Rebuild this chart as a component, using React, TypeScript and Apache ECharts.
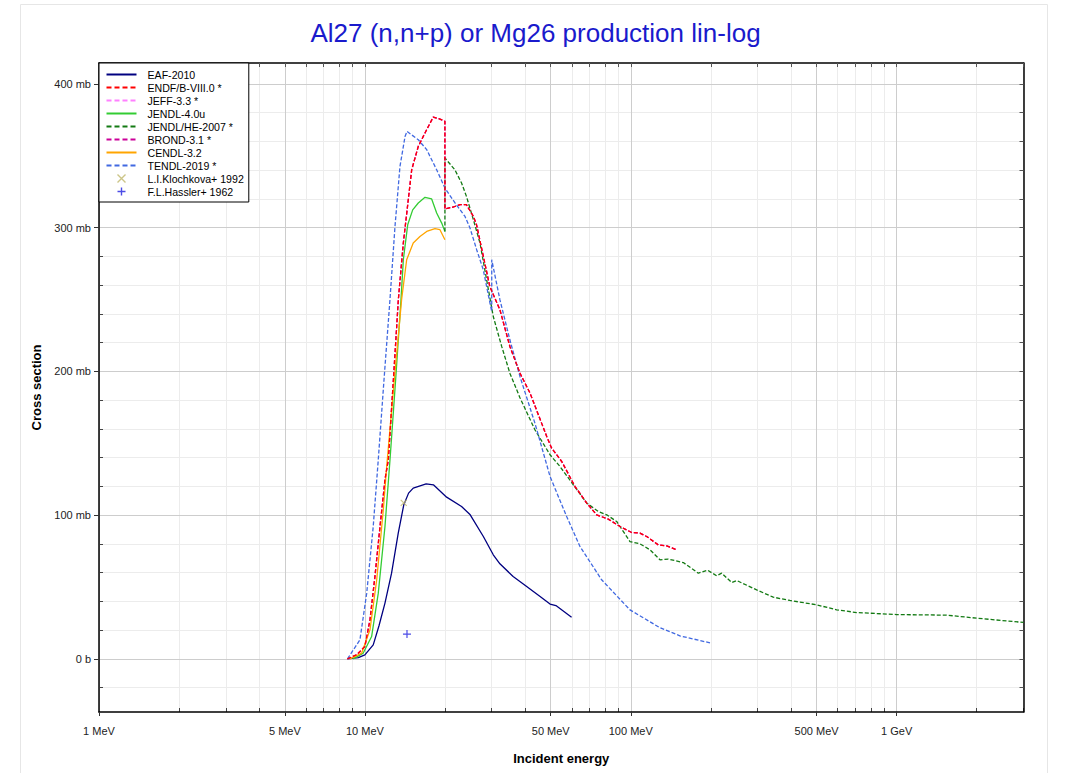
import { useEffect, useRef } from 'react';
import * as echarts from 'echarts';

// ---------- data (energy in MeV, cross section in mb) ----------
const eafE = [8.6, 9.45, 10.0, 10.75, 11.3, 11.9, 12.6, 13.35, 14.0, 14.6, 15.2, 17.0, 18.1, 20.3, 23.1, 24.9, 27.9, 30.4, 32.2, 36.1, 40.6, 45.6, 49.7, 52.3, 59.9];
const eafXS = [0, 0.9, 2.8, 9.7, 23, 38.8, 59.6, 87.5, 107, 115.3, 118.8, 121.8, 121.1, 112.5, 106, 100.2, 85.1, 72.4, 66.1, 57.3, 50.3, 43.4, 38.1, 37.1, 29.0];

// ENDF/B-VIII.0, JEFF-3.3 and BROND-3.1 coincide
const endfE = [8.59, 9.32, 10.0, 10.45, 10.91, 11.4, 11.9, 12.25, 12.8, 13.36, 13.95, 14.56, 15.0, 15.88, 16.83, 18.08, 19.16, 20.0, 20.0, 21.5, 22.8, 24.1, 25.6, 26.3, 27.9, 29.5, 32.2, 35.1, 38.3, 41.8, 48.3, 50.4, 55.0, 61.7, 68.3, 74.4, 82.3, 91.1, 100.8, 108.3, 114.8, 126.9, 136.5, 148.7];
const endfXS = [0, 2.8, 8.6, 27.1, 57.3, 92.1, 124.6, 138.5, 194, 249.9, 289.3, 319.4, 340.3, 356.6, 365.9, 377, 375.6, 374, 313, 314.4, 316, 316, 307.8, 302, 280, 259.1, 242.9, 217.4, 198.8, 184.9, 154.7, 146.6, 137.3, 119.9, 108.4, 100.2, 97.2, 92.1, 87.9, 87.5, 85.1, 79.3, 78.6, 75.9];

const jendl4E = [9.04, 9.86, 10.6, 11.23, 11.9, 12.43, 13.05, 13.67, 13.95, 14.49, 15.13, 15.88, 16.83, 17.83, 18.62, 19.45, 20.0];
const jendl4XS = [0, 4, 15.5, 45.7, 92.1, 138.5, 194, 249.9, 277.7, 302, 312.4, 317.2, 321.1, 320, 310.2, 303.2, 297.4];

const jendlHeE = [20.0, 20.0, 21.8, 23.1, 24.1, 25.6, 27.1, 28.7, 30.4, 32.7, 35.1, 38.3, 43.6, 49.7, 54.2, 60.8, 68.3, 75.5, 81.2, 88.5, 99.3, 108.3, 118.1, 128.8, 138.4, 157.6, 179.5, 194.3, 210.4, 219.7, 239.6, 250.2, 297.5, 343.5, 396.8, 500, 594.7, 707.2, 1000, 1541, 2000, 3000];
const jendlHeXS = [297.4, 348.5, 340.3, 331.1, 321.8, 305.5, 289.3, 263.8, 238.2, 217.4, 198.8, 181.7, 159.4, 142, 133.8, 121.1, 108.4, 102.5, 100.2, 95.6, 81.6, 80, 75.9, 68.9, 69.4, 67, 59.6, 61.7, 57.8, 59.6, 53.1, 54.5, 48, 42.9, 40.6, 37.6, 34.1, 32.2, 30.8, 30.4, 28.3, 25.3];

const cendlE = [8.79, 9.73, 10.45, 11.08, 11.73, 12.08, 12.9, 13.75, 14.36, 15.2, 16.11, 17.08, 18.35, 19.16, 20.0];
const cendlXS = [0, 4, 20.2, 55, 103.7, 133.8, 194, 250.3, 277.7, 289.3, 293.9, 297.4, 299.3, 298.6, 291.6];

const tendlE = [8.6, 9.58, 10.16, 10.75, 11.23, 11.8, 12.43, 12.98, 13.55, 14.16, 14.4, 15.88, 17.08, 18.62, 20.0, 21.83, 23.8, 24.85, 26.33, 27.88, 29.54, 30.0, 30.0, 32.2, 35.1, 38.3, 43.6, 49.7, 57.4, 64.4, 77.7, 99.3, 128.8, 153, 198.6];
const tendlXS = [0, 13.2, 45.7, 92.1, 138.5, 194, 250.3, 300.9, 342.6, 363.5, 367, 361.2, 354.3, 340.3, 327.6, 317.2, 307.8, 299.8, 284.7, 270.7, 247.6, 241.7, 277.7, 249.9, 222, 196.5, 164, 126.9, 99, 78.2, 55.0, 34.1, 21.6, 16, 11.1];

const klochkovaE = [14.0];
const klochkovaXS = [108.5];
const hasslerE = [14.4];
const hasslerXS = [17.2];

// ---------- axes ----------
const X_MIN = 1; // MeV
const X_MAX = 3000; // MeV
const Y_MIN = -37; // mb
const Y_MAX = 414.6; // mb
const xLabelValues = [1, 5, 10, 50, 100, 500, 1000];
const xMinorValues = [2, 3, 4, 6, 7, 8, 9, 20, 30, 40, 60, 70, 80, 90, 200, 300, 400, 600, 700, 800, 900, 2000, 3000];
const yLabelValues = [0, 100, 200, 300, 400];
const yMinorValues = [-20, 20, 40, 60, 80, 120, 140, 160, 180, 220, 240, 260, 280, 320, 340, 360, 380];

const FONT = '"Liberation Sans", Arial, Helvetica, sans-serif';
const lg = (v: number) => Math.log10(v);
const pts = (E: number[], S: number[]) => E.map((e, i) => [lg(e), S[i]]);

const fmtX = (v: number) => {
  const e = Math.round(Math.pow(10, v));
  return e >= 1000 ? `${Math.round(e / 1000)} GeV` : `${e} MeV`;
};
const fmtY = (v: number) => (Math.round(v) === 0 ? '0 b' : `${Math.round(v)} mb`);

const DASH = [4, 2];
const LINE_ICON = 'path://M0,0M0,8M0,4L30,4';
const CROSS = 'path://M0,0L10,10M10,0L0,10';
const PLUS = 'path://M5,0L5,10M0,5L10,5';

const lineSeries = (name: string, E: number[], S: number[], color: string, dashed: boolean, z = 2) => ({
  name,
  type: 'line',
  data: pts(E, S),
  symbol: 'none',
  showSymbol: false,
  smooth: false,
  lineStyle: { color, width: 1.3, type: dashed ? DASH : 'solid' },
  itemStyle: { color },
  z,
});

const lineLegend = (name: string, color: string, dashed: boolean) => ({
  name,
  icon: LINE_ICON,
  itemStyle: { color: 'none', borderColor: color, borderWidth: 2, borderType: dashed ? [5, 3] : 'solid' },
});

export default function App() {
  const ref = useRef<HTMLDivElement>(null);
  useEffect(() => {
    if (!ref.current) return;
    const chart = echarts.init(ref.current, null, { renderer: 'svg' });
    const allXTicks = [...xLabelValues, ...xMinorValues].sort((a, b) => a - b).map(lg);
    const allYTicks = [...yLabelValues, ...yMinorValues].sort((a, b) => a - b);
    const option: any = {
      animation: false,
      backgroundColor: '#ffffff',
      textStyle: { fontFamily: FONT },
      title: {
        text: 'Al27 (n,n+p) or Mg26 production lin-log',
        left: 'center',
        top: 15,
        textStyle: { color: '#1a1acc', fontSize: 26, fontWeight: 'normal', fontFamily: FONT },
      },
      graphic: [
        {
          type: 'rect',
          silent: true,
          shape: { x: 20.5, y: 4.5, width: 1027, height: 800 },
          style: { fill: 'none', stroke: '#e6e6e6', lineWidth: 1 },
          z: -10,
        },
      ],
      grid: { left: 99, top: 63, right: 47.5, bottom: 61, containLabel: false },
      legend: {
        orient: 'vertical',
        left: 99,
        top: 63,
        itemWidth: 30,
        itemHeight: 8,
        itemGap: 0,
        padding: [5, 5, 4, 5],
        backgroundColor: '#ffffff',
        borderColor: '#000000',
        borderWidth: 1,
        borderRadius: 0,
        textStyle: { fontSize: 10.6, lineHeight: 13, height: 13, color: '#000', fontFamily: FONT, padding: [0, 0, 0, 6] },
        data: [
          lineLegend('EAF-2010', '#000080', false),
          lineLegend('ENDF/B-VIII.0 *', '#ff0000', true),
          lineLegend('JEFF-3.3 *', '#ff80ff', true),
          lineLegend('JENDL-4.0u', '#33cc33', false),
          lineLegend('JENDL/HE-2007 *', '#137a13', true),
          lineLegend('BROND-3.1 *', '#cc0099', true),
          lineLegend('CENDL-3.2', '#ffa500', false),
          lineLegend('TENDL-2019 *', '#4169e1', true),
          { name: 'L.I.Klochkova+ 1992', icon: CROSS, itemStyle: { color: '#bfb66a', borderColor: '#bfb66a', borderWidth: 1.4 } },
          { name: 'F.L.Hassler+ 1962', icon: PLUS, itemStyle: { color: '#1f1fe0', borderColor: '#1f1fe0', borderWidth: 1.4 } },
        ],
      },
      xAxis: [
        {
          type: 'value',
          min: lg(X_MIN),
          max: lg(X_MAX),
          position: 'bottom',
          z: 1,
          axisLine: { show: true, onZero: false, lineStyle: { color: '#000', width: 1.5 } },
          axisTick: { show: true, customValues: xLabelValues.map(lg), length: 4, lineStyle: { color: '#333' } },
          axisLabel: { customValues: xLabelValues.map(lg), formatter: fmtX, fontSize: 11, color: '#222', margin: 13, fontFamily: FONT },
          splitLine: { show: true, lineStyle: { color: '#cdcdcd', width: 1 } },
          name: 'Incident energy',
          nameLocation: 'middle',
          nameGap: 40,
          nameMoveOverlap: false,
          nameTextStyle: { fontWeight: 'bold', fontSize: 13, color: '#000', fontFamily: FONT },
        },
        {
          type: 'value',
          min: lg(X_MIN),
          max: lg(X_MAX),
          position: 'bottom',
          z: 0,
          axisLine: { show: false, onZero: false },
          axisTick: { show: true, inside: true, customValues: allXTicks, length: 4, lineStyle: { color: '#444' } },
          axisLabel: { show: false },
          splitLine: { show: true, lineStyle: { color: '#ececec', width: 1 } },
        },
        {
          type: 'value',
          min: lg(X_MIN),
          max: lg(X_MAX),
          position: 'top',
          z: 1,
          axisLine: { show: true, onZero: false, lineStyle: { color: '#000', width: 1.5 } },
          axisTick: { show: true, inside: true, customValues: allXTicks, length: 4, lineStyle: { color: '#555' } },
          axisLabel: { show: false },
          splitLine: { show: false },
        },
      ],
      yAxis: [
        {
          type: 'value',
          min: Y_MIN,
          max: Y_MAX,
          position: 'left',
          z: 1,
          axisLine: { show: true, onZero: false, lineStyle: { color: '#000', width: 1.5 } },
          axisTick: { show: true, customValues: yLabelValues, length: 5, lineStyle: { color: '#333' } },
          axisLabel: { customValues: yLabelValues, formatter: fmtY, fontSize: 11, color: '#222', margin: 8, fontFamily: FONT },
          splitLine: { show: true, lineStyle: { color: '#cdcdcd', width: 1 } },
          name: 'Cross section',
          nameLocation: 'middle',
          nameGap: 56,
          nameMoveOverlap: false,
          nameTextStyle: { fontWeight: 'bold', fontSize: 13, color: '#000', fontFamily: FONT },
        },
        {
          type: 'value',
          min: Y_MIN,
          max: Y_MAX,
          position: 'left',
          z: 0,
          axisLine: { show: false, onZero: false },
          axisTick: { show: true, inside: true, customValues: allYTicks, length: 4, lineStyle: { color: '#444' } },
          axisLabel: { show: false },
          splitLine: { show: true, lineStyle: { color: '#ececec', width: 1 } },
        },
        {
          type: 'value',
          min: Y_MIN,
          max: Y_MAX,
          position: 'right',
          z: 1,
          axisLine: { show: true, onZero: false, lineStyle: { color: '#000', width: 1.5 } },
          axisTick: { show: true, inside: true, customValues: allYTicks, length: 4, lineStyle: { color: '#555' } },
          axisLabel: { show: false },
          splitLine: { show: false },
        },
      ],
      series: [
        lineSeries('EAF-2010', eafE, eafXS, '#000080', false),
        lineSeries('ENDF/B-VIII.0 *', endfE, endfXS, '#ff0000', true, 3),
        lineSeries('JEFF-3.3 *', endfE, endfXS, '#ff80ff', true),
        lineSeries('JENDL-4.0u', jendl4E, jendl4XS, '#33cc33', false),
        lineSeries('JENDL/HE-2007 *', jendlHeE, jendlHeXS, '#137a13', true),
        lineSeries('BROND-3.1 *', endfE, endfXS, '#cc0099', true),
        lineSeries('CENDL-3.2', cendlE, cendlXS, '#ffa500', false),
        lineSeries('TENDL-2019 *', tendlE, tendlXS, '#4169e1', true),
        {
          name: 'L.I.Klochkova+ 1992',
          type: 'scatter',
          data: pts(klochkovaE, klochkovaXS),
          symbol: CROSS,
          symbolSize: 6,
          itemStyle: { color: '#bfb66a', borderColor: '#bfb66a', borderWidth: 1.2 },
          z: 4,
        },
        {
          name: 'F.L.Hassler+ 1962',
          type: 'scatter',
          data: pts(hasslerE, hasslerXS),
          symbol: PLUS,
          symbolSize: 8,
          itemStyle: { color: '#1f1fe0', borderColor: '#1f1fe0', borderWidth: 1.2 },
          z: 4,
        },
      ],
    };
    chart.setOption(option);
    return () => chart.dispose();
  }, []);
  return <div ref={ref} style={{ position: 'fixed', left: 0, top: 0, width: 1071, height: 773 }} />;
}
